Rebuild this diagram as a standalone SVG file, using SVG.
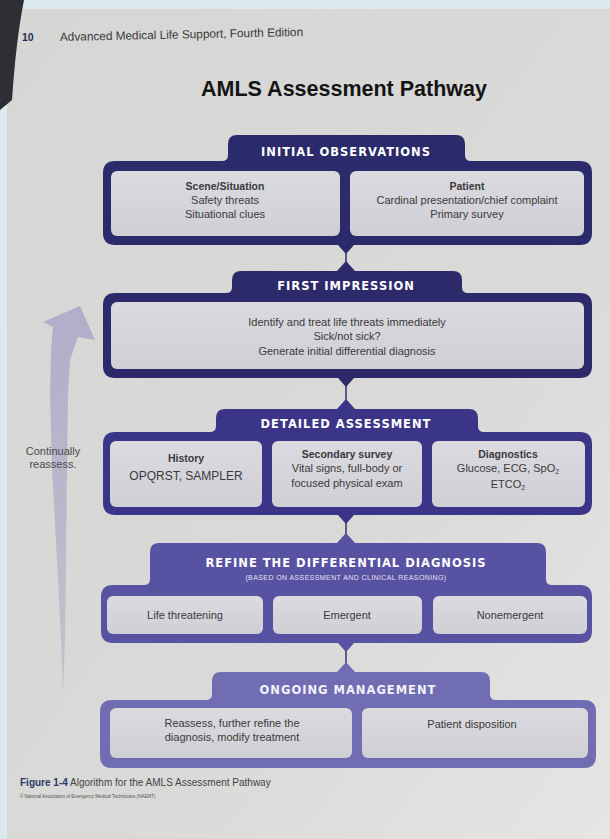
<svg xmlns="http://www.w3.org/2000/svg" width="610" height="839" viewBox="0 0 610 839">
<defs>
<linearGradient id="page" x1="0" y1="0" x2="1" y2="1">
<stop offset="0" stop-color="#d6d6d5"/>
<stop offset="0.6" stop-color="#d9d9d7"/>
<stop offset="1" stop-color="#e5e5e3"/>
</linearGradient>
<linearGradient id="inner" x1="0" y1="0" x2="0" y2="1">
<stop offset="0" stop-color="#dadadf"/>
<stop offset="1" stop-color="#cfcfd6"/>
</linearGradient>
<linearGradient id="arrowG" x1="0" y1="0" x2="0" y2="1">
<stop offset="0" stop-color="#b0aeca"/>
<stop offset="1" stop-color="#c2c2cc"/>
</linearGradient>
<style>
.tab{font-family:"DejaVu Sans",sans-serif;font-weight:bold;font-size:11.5px;fill:#ffffff;text-anchor:middle;letter-spacing:1px}
.t{font-family:"Liberation Sans",Arial,sans-serif;font-size:11px;fill:#3a3a3a;text-anchor:middle}
.h{font-family:"Liberation Sans",Arial,sans-serif;font-size:10.5px;font-weight:bold;fill:#3a3a3a;text-anchor:middle}
.in{fill:url(#inner)}
.conn{stroke:#34306e;stroke-width:1.5;fill:none}
</style>
</defs>
<rect x="0" y="0" width="610" height="839" fill="url(#page)"/>
<rect x="0" y="0" width="610" height="9" fill="#dce9ef"/>
<rect x="0" y="0" width="7" height="839" fill="#dce9ef"/>
<path d="M0,0 L24,0 Q16,40 12,100 L0,110 Z" fill="#2e2e34"/>

<g id="header">
<text x="22" y="41" font-family="Liberation Sans,Arial,sans-serif" font-size="10.5" font-weight="bold" fill="#1f2a5a">10</text>
<text x="60" y="41" font-family="Liberation Sans,Arial,sans-serif" font-size="11.8" fill="#3a3a3a" transform="rotate(-1.2 60 41)">Advanced Medical Life Support, Fourth Edition</text>
<text x="344" y="96" font-family="Liberation Sans,Arial,sans-serif" font-size="21.5" font-weight="bold" fill="#141414" text-anchor="middle">AMLS Assessment Pathway</text>
</g>

<g id="reassess-arrow">
<path d="M63,693 L61,640 L57,560 L52,470 L50,395 L51,350 L53,327 L43,322 L80,306 L95,340 L78,337 L70,360 L68,395 L67,470 L66,560 L65,640 Z" fill="url(#arrowG)"/>
<text x="53" y="455" class="t" style="fill:#4a4a4a">Continually</text>
<text x="53" y="468" class="t" style="fill:#4a4a4a">reassess.</text>
</g>

<g id="connectors">
<line class="conn" x1="346" y1="253" x2="346" y2="262"/>
<line class="conn" x1="346" y1="386" x2="346" y2="400"/>
<line class="conn" x1="346" y1="523" x2="346" y2="534"/>
<line class="conn" x1="346" y1="651" x2="346" y2="663"/>
</g>

<g id="initial-observations">
<path d="M115,161 L222,161 Q228,161 228,155 L228,144 Q228,135 237,135 L456,135 Q465,135 465,144 L465,155 Q465,161 471,161 L580,161 Q592,161 592,173 L592,233 Q592,245 580,245 L354,245 L346,254 L338,245 L115,245 Q103,245 103,233 L103,173 Q103,161 115,161 Z" fill="#2b2a6a"/>
<text x="346" y="156" class="tab">INITIAL OBSERVATIONS</text>
<rect x="111" y="171" width="229" height="65" rx="6" class="in"/>
<rect x="350" y="171" width="234" height="65" rx="6" class="in"/>
<text x="225" y="190" class="h">Scene/Situation</text>
<text x="225" y="204" class="t">Safety threats</text>
<text x="225" y="218" class="t">Situational clues</text>
<text x="467" y="190" class="h">Patient</text>
<text x="467" y="204" class="t">Cardinal presentation/chief complaint</text>
<text x="467" y="218" class="t">Primary survey</text>
</g>

<g id="first-impression">
<path d="M115,293 L226,293 Q232,293 232,287 L232,280 Q232,271 241,271 L337,271 L346,261 L355,271 L453,271 Q462,271 462,280 L462,287 Q462,293 468,293 L580,293 Q592,293 592,305 L592,366 Q592,378 580,378 L354,378 L346,387 L338,378 L115,378 Q103,378 103,366 L103,305 Q103,293 115,293 Z" fill="#2d2a6c"/>
<text x="346" y="290" class="tab">FIRST IMPRESSION</text>
<rect x="111" y="302" width="473" height="67" rx="6" class="in"/>
<text x="347" y="326" class="t">Identify and treat life threats immediately</text>
<text x="347" y="340" class="t">Sick/not sick?</text>
<text x="347" y="355" class="t">Generate initial differential diagnosis</text>
</g>

<g id="detailed-assessment">
<path d="M115,432 L210,432 Q216,432 216,426 L216,418 Q216,409 225,409 L337,409 L346,399 L355,409 L469,409 Q478,409 478,418 L478,426 Q478,432 484,432 L580,432 Q592,432 592,444 L592,503 Q592,515 580,515 L354,515 L346,524 L338,515 L115,515 Q103,515 103,503 L103,444 Q103,432 115,432 Z" fill="#3b3588"/>
<text x="346" y="428" class="tab">DETAILED ASSESSMENT</text>
<rect x="110" y="441" width="152" height="66" rx="6" class="in"/>
<rect x="272" y="441" width="150" height="66" rx="6" class="in"/>
<rect x="432" y="441" width="153" height="66" rx="6" class="in"/>
<text x="186" y="462" class="h">History</text>
<text x="186" y="480" class="t" style="font-size:12px">OPQRST, SAMPLER</text>
<text x="347" y="458" class="h">Secondary survey</text>
<text x="347" y="472" class="t">Vital signs, full-body or</text>
<text x="347" y="487" class="t">focused physical exam</text>
<text x="508" y="458" class="h">Diagnostics</text>
<text x="508" y="472" class="t">Glucose, ECG, SpO<tspan dy="2" font-size="7">2</tspan></text>
<text x="508" y="488" class="t">ETCO<tspan dy="2" font-size="7">2</tspan></text>
</g>

<g id="refine-differential">
<path d="M113,585 L144,585 Q150,585 150,579 L150,552 Q150,543 159,543 L337,543 L346,533 L355,543 L537,543 Q546,543 546,552 L546,579 Q546,585 552,585 L580,585 Q592,585 592,597 L592,631 Q592,643 580,643 L354,643 L346,652 L338,643 L113,643 Q101,643 101,631 L101,597 Q101,585 113,585 Z" fill="#5852a2"/>
<text x="346" y="567" class="tab">REFINE THE DIFFERENTIAL DIAGNOSIS</text>
<text x="346" y="580" font-family="Liberation Sans,Arial,sans-serif" font-size="7" letter-spacing="0.4" fill="#e4e2f2" text-anchor="middle">(BASED ON ASSESSMENT AND CLINICAL REASONING)</text>
<rect x="107" y="596" width="156" height="38" rx="6" class="in"/>
<rect x="273" y="596" width="149" height="38" rx="6" class="in"/>
<rect x="433" y="596" width="154" height="38" rx="6" class="in"/>
<text x="185" y="619" class="t">Life threatening</text>
<text x="347" y="619" class="t">Emergent</text>
<text x="510" y="619" class="t">Nonemergent</text>
</g>

<g id="ongoing-management">
<path d="M112,700 L206,700 Q212,700 212,694 L212,681 Q212,672 221,672 L337,672 L346,662 L355,672 L481,672 Q490,672 490,681 L490,694 Q490,700 496,700 L584,700 Q596,700 596,712 L596,756 Q596,768 584,768 L112,768 Q100,768 100,756 L100,712 Q100,700 112,700 Z" fill="#716db3"/>
<text x="348" y="694" class="tab" style="fill:#f2f1fa">ONGOING MANAGEMENT</text>
<rect x="110" y="708" width="242" height="50" rx="6" class="in"/>
<rect x="362" y="708" width="226" height="50" rx="6" class="in"/>
<text x="232" y="727" class="t">Reassess, further refine the</text>
<text x="232" y="741" class="t">diagnosis, modify treatment</text>
<text x="472" y="728" class="t">Patient disposition</text>
</g>

<g id="caption">
<text x="20" y="786" font-family="Liberation Sans,Arial,sans-serif" font-size="10" fill="#444"><tspan font-weight="bold" fill="#2a3a6a">Figure 1-4</tspan> Algorithm for the AMLS Assessment Pathway</text>
<text x="20" y="798" font-family="Liberation Sans,Arial,sans-serif" font-size="4.5" fill="#555">© National Association of Emergency Medical Technicians (NAEMT)</text>
</g>
</svg>
